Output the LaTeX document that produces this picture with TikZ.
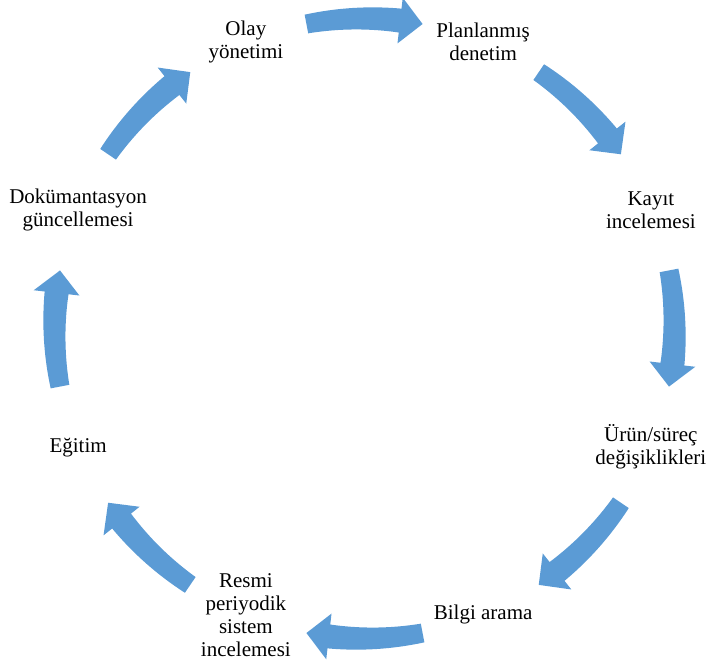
\documentclass[tikz,border=0pt]{standalone}
\usepackage{fontspec}
\setmainfont{Liberation Serif}
\definecolor{arrowblue}{HTML}{5B9BD5}
\newcommand\cycarrow[1]{%
  \pgfmathsetmacro\aS{#1+10.8}%
  \pgfmathsetmacro\aH{#1-6.6}%
  \pgfmathsetmacro\aT{#1-10.8}%
  \fill[cyc] plot[domain=\aS:\aH, samples=25] ({\x}:{319.5+2.5*(\aS-\x)/(\aS-\aH)})
    -- (\aH:333) -- (\aT:310) -- (\aH:287)
    -- plot[domain=\aH:\aS, samples=25] ({\x}:{300.5-2.5*(\aS-\x)/(\aS-\aH)}) -- cycle;}
\begin{document}
\begin{tikzpicture}[x=1pt,y=1pt,
  lbl/.style={align=center,font=\fontsize{21}{23}\selectfont,inner sep=0pt},
  cyc/.style={fill=arrowblue,draw=none}]
\useasboundingbox (0,0) rectangle (709,-665);
\coordinate (C) at (364.5,-328.5);
\begin{scope}[shift={(C)}]
  \node[lbl] (olay)  at (112.5:310pt) {Olay\\yönetimi};
  \node[lbl] (plan)  at (67.5:310pt)  {Planlanmış\\denetim};
  \node[lbl] (kayit) at (22.5:310pt)  {Kayıt\\incelemesi};
  \node[lbl] (urun)  at (-22.5:310pt) {Ürün/süreç\\değişiklikleri};
  \node[lbl] (bilgi) at (-67.5:310pt) {Bilgi arama};
  \node[lbl] (resmi) at (-112.5:310pt) {Resmi\\periyodik\\sistem\\incelemesi};
  \node[lbl] (egitim) at (-157.5:310pt) {Eğitim};
  \node[lbl] (dok)   at (157.5:310pt) {Dokümantasyon\\güncellemesi};
  \foreach \m in {90,45,0,-45,-90,-135,-180,-225} {\cycarrow{\m}}
\end{scope}
\end{tikzpicture}
\end{document}
